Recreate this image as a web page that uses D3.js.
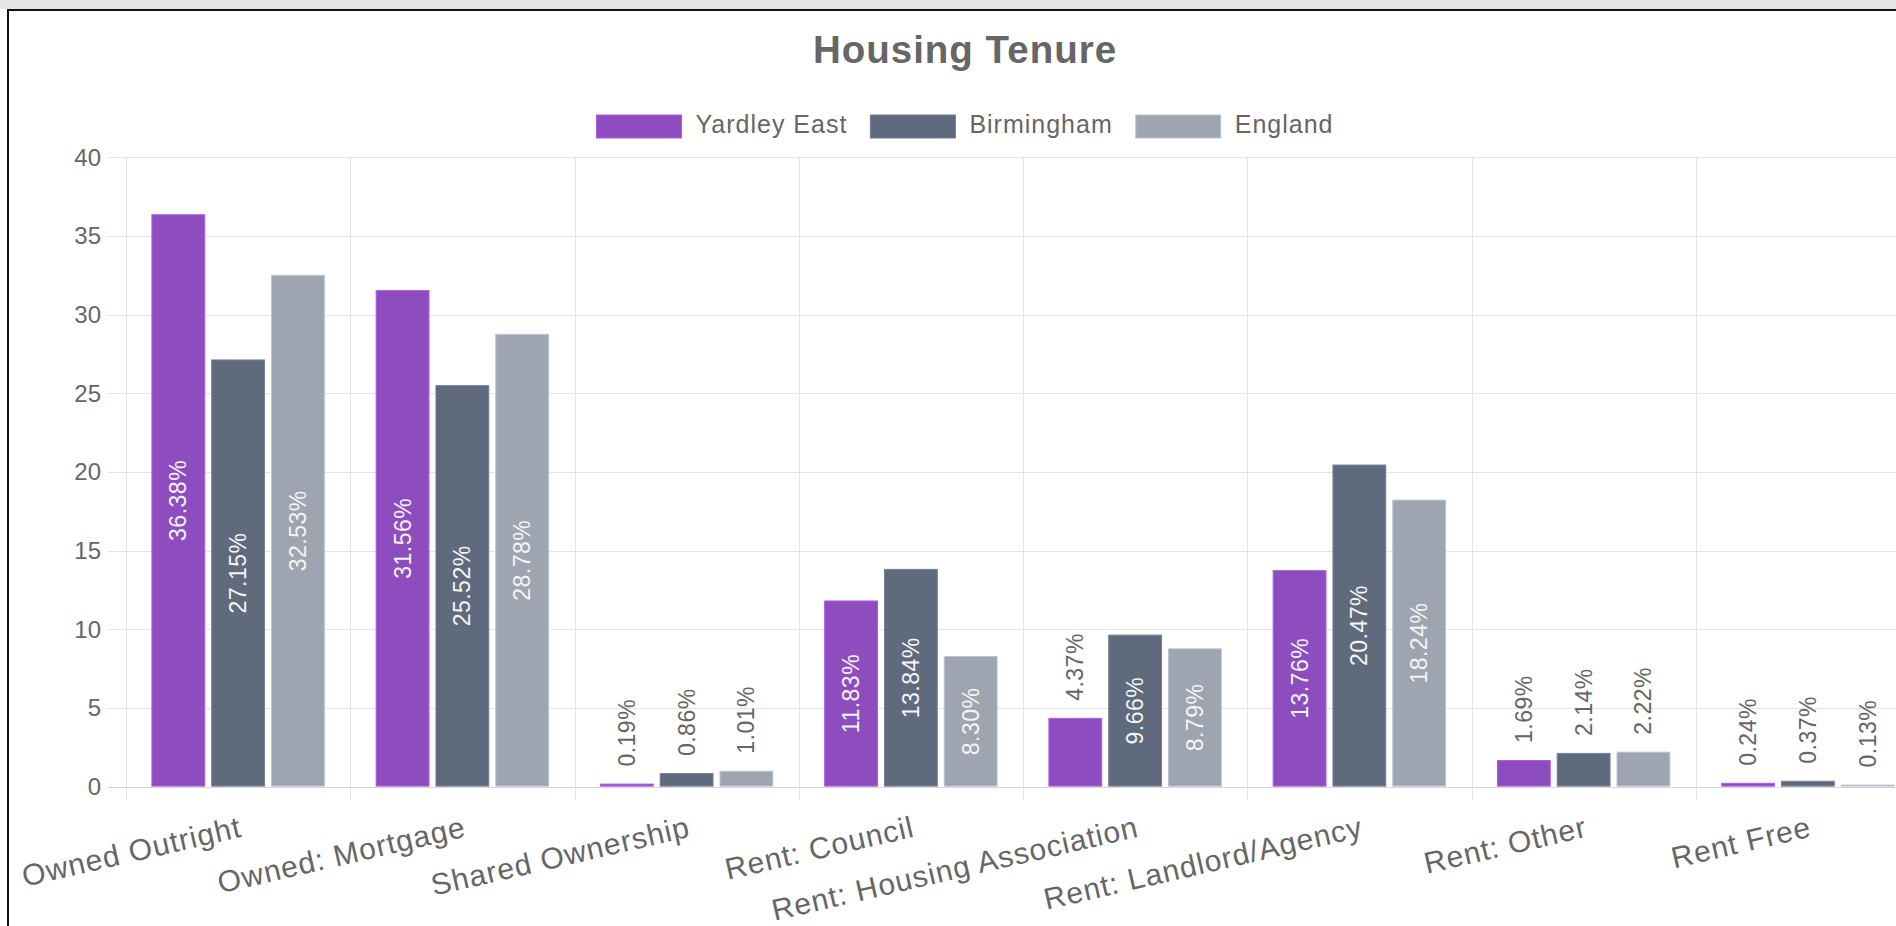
<!DOCTYPE html>
<html>
<head>
<meta charset="utf-8">
<script src="https://cdn.jsdelivr.net/npm/d3@7"></script>
<style>
  html, body { margin: 0; padding: 0; background: #fff; overflow: hidden; }
  #band { position: absolute; left: 0; top: 0; width: 1896px; height: 9px; background: #e6e6e6; }
  #frame { position: absolute; left: 7px; top: 9px; width: 1900px; height: 930px; border-left: 2px solid #111; border-top: 2px solid #111; }
  svg { position: absolute; left: 0; top: 0; }
  text { font-family: "Liberation Sans", Arial, sans-serif; }
</style>
</head>
<body>
<div id="band"></div>
<div id="frame"></div>
<div id="chart"></div>
<script>
const categories = ['Owned Outright', 'Owned: Mortgage', 'Shared Ownership', 'Rent: Council',
  'Rent: Housing Association', 'Rent: Landlord/Agency', 'Rent: Other', 'Rent Free'];
const seriesNames = ['Yardley East', 'Birmingham', 'England'];
const yardleyEast = [36.38, 31.56, 0.19, 11.83, 4.37, 13.76, 1.69, 0.24];
const birmingham = [27.15, 25.52, 0.86, 13.84, 9.66, 20.47, 2.14, 0.37];
const england = [32.53, 28.78, 1.01, 8.30, 8.79, 18.24, 2.22, 0.13];
const yTicks = [0, 5, 10, 15, 20, 25, 30, 35, 40];

const colors = ['#8e4dbe', '#5f6a7d', '#9ea4b0'];
const seriesValues = [yardleyEast, birmingham, england];

const width = 1896;
const height = 926;
// the chart is wider than the window, its right edge is cut off
const plot = { left: 126, right: 1920, top: 157.3, bottom: 786.6 };
const centerX = 965;

const svg = d3.select('#chart').append('svg').attr('width', width).attr('height', height);

const x = d3.scaleBand().domain(categories).range([plot.left, plot.right]);
const bw = x.bandwidth();
const xSub = d3
  .scaleBand()
  .domain(seriesNames)
  .range([bw * 0.1, bw * 0.9])
  .paddingInner(0.1)
  .paddingOuter(0.05);

const y = d3.scaleLinear().domain([0, 40]).range([plot.bottom, plot.top]);

// title
svg.append('text')
  .attr('x', centerX)
  .attr('y', 63)
  .attr('text-anchor', 'middle')
  .style('font-size', '38.5px')
  .style('font-weight', 'bold')
  .style('letter-spacing', '1px')
  .attr('fill', '#666')
  .text('Housing Tenure');

// legend
const legend = svg.append('g');
const items = legend.selectAll('g').data(seriesNames).enter().append('g');
items.append('rect')
  .attr('width', 85)
  .attr('height', 23)
  .attr('y', 115)
  .attr('fill', (d, i) => colors[i])
  .attr('stroke', (d, i) => d3.color(colors[i]).brighter(0.5))
  .attr('stroke-width', 1);
items.append('text')
  .attr('x', 99)
  .attr('y', 133)
  .style('font-size', '25px')
  .style('letter-spacing', '1px')
  .attr('fill', '#666')
  .text((d) => d);
let offs = [];
let total = 0;
items.each(function () {
  const w = this.getBBox().width;
  offs.push(total);
  total += w + 23;
});
total -= 23;
items.attr('transform', (d, i) => `translate(${centerX - total / 2 + offs[i]},0)`);

// horizontal grid + y ticks
svg.append('g')
  .selectAll('line')
  .data(yTicks)
  .enter()
  .append('line')
  .attr('x1', 108)
  .attr('x2', plot.right)
  .attr('y1', (d) => Math.round(y(d)) + 0.5)
  .attr('y2', (d) => Math.round(y(d)) + 0.5)
  .attr('stroke', (d) => (d === 0 ? '#d6d6d6' : '#e4e4e4'))
  .attr('stroke-width', 1);

svg.append('g')
  .selectAll('text')
  .data(yTicks)
  .enter()
  .append('text')
  .attr('x', 101)
  .attr('y', (d) => y(d))
  .attr('dy', '0.35em')
  .attr('text-anchor', 'end')
  .style('font-size', '24px')
  .attr('fill', '#666')
  .text((d) => d);

// vertical grid lines at category edges
const edges = categories.map((c) => x(c)).concat([plot.right]);
svg.append('g')
  .selectAll('line')
  .data(edges)
  .enter()
  .append('line')
  .attr('x1', (d) => Math.round(d) + 0.5)
  .attr('x2', (d) => Math.round(d) + 0.5)
  .attr('y1', plot.top)
  .attr('y2', 800)
  .attr('stroke', '#e4e4e4')
  .attr('stroke-width', 1);

// bars
const barData = [];
categories.forEach((c, ci) => {
  seriesNames.forEach((s, si) => {
    barData.push({ cat: c, name: s, value: seriesValues[si][ci], color: colors[si] });
  });
});

const bars = svg.append('g');
bars.selectAll('rect')
  .data(barData)
  .enter()
  .append('rect')
  .attr('x', (d) => x(d.cat) + xSub(d.name) + 0.5)
  .attr('y', (d) => y(d.value) + 0.5)
  .attr('width', xSub.bandwidth() - 1)
  .attr('height', (d) => Math.max(0, y(0) - y(d.value) - 1))
  .attr('fill', (d) => d.color)
  .attr('stroke', (d) => d3.color(d.color).brighter(0.5))
  .attr('stroke-width', 1);

// value labels, inside the bar when it fits, else above it
const fmt = d3.format('.2f');
const labels = svg.append('g');
labels.selectAll('text')
  .data(barData)
  .enter()
  .append('text')
  .style('font-size', '23px')
  .style('letter-spacing', '0.5px')
  .text((d) => fmt(d.value) + '%')
  .each(function (d) {
    const len = this.getComputedTextLength();
    const cx = x(d.cat) + xSub(d.name) + xSub.bandwidth() / 2;
    const h = y(0) - y(d.value);
    const sel = d3.select(this).attr('dy', '0.35em');
    if (h > len + 12) {
      sel.attr('text-anchor', 'middle')
        .attr('fill', '#f4f4f4')
        .attr('transform', `translate(${cx},${(y(0) + y(d.value)) / 2}) rotate(-90)`);
    } else {
      sel.attr('text-anchor', 'start')
        .attr('fill', '#666')
        .attr('transform', `translate(${cx},${y(d.value) - 17}) rotate(-90)`);
    }
  });

// x axis labels, rotated
svg.append('g')
  .selectAll('text')
  .data(categories)
  .enter()
  .append('text')
  .attr('text-anchor', 'end')
  .attr('dy', '0.73em')
  .attr('transform', (d) => `translate(${x(d) + bw / 2},815) rotate(-13)`)
  .style('font-size', '30px')
  .style('letter-spacing', '1px')
  .attr('fill', '#666')
  .text((d) => d);
</script>
</body>
</html>
